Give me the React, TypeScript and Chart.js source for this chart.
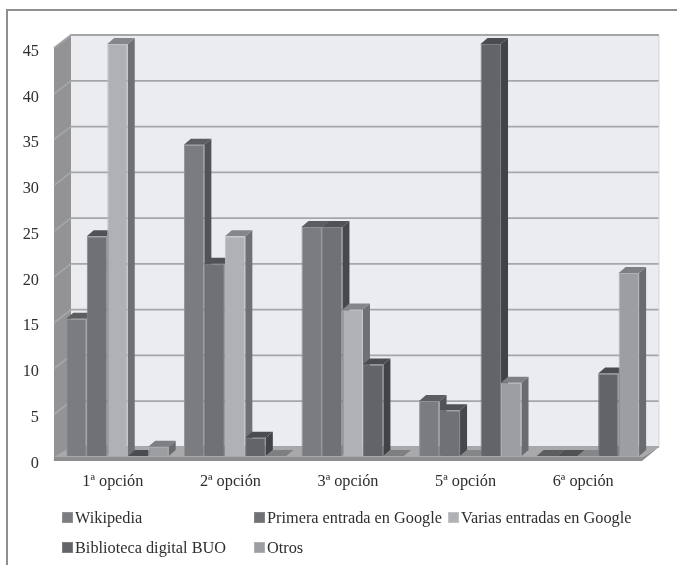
import React, { useEffect, useRef } from "react";
import { Chart, registerables } from "chart.js";

Chart.register(...registerables);

const categories = ["1ª opción", "2ª opción", "3ª opción", "5ª opción", "6ª opción"];
const wikipedia = [15, 34, 25, 6, 0];
const primera = [24, 21, 25, 5, 0];
const varias = [45, 24, 16, 0, 0];
const biblioteca = [0, 2, 10, 45, 9];
const otros = [1, 0, 0, 8, 20];
const seriesNames = ["Wikipedia", "Primera entrada en Google", "Varias entradas en Google", "Biblioteca digital BUO", "Otros"];
const seriesValues = [wikipedia, primera, varias, biblioteca, otros];
const frontColors = ["#7b7c80", "#707175", "#b0b1b5", "#636468", "#9d9ea2"];
const sideColors = ["#525357", "#47484c", "#6f7074", "#424347", "#6a6b6f"];
const topColors = ["#5c5d61", "#515256", "#85868a", "#4b4c50", "#7e7f83"];
const edgeColors = ["#919296", "#86878b", "#c2c3c6", "#7e7f83", "#b0b1b4"];
const yMax = 45;
const yStep = 5;
const legendColumns = [63, 255, 449];

const FONT = '"Liberation Serif", serif';
const FONT_SIZE = 16.3;
const WALL_DX = 17;
const WALL_DY = 13;
const BAR_DX = 7;
const BAR_DY = 6;
const BAR_SHIFT_X = 4.7;
const BAR_SHIFT_Y = 4;

function poly(ctx: CanvasRenderingContext2D, pts: number[][], fill: string) {
  ctx.beginPath();
  pts.forEach((p, i) => (i ? ctx.lineTo(p[0], p[1]) : ctx.moveTo(p[0], p[1])));
  ctx.closePath();
  ctx.fillStyle = fill;
  ctx.fill();
}

const scene3d = {
  id: "scene3d",
  beforeDatasetsDraw(chart: any) {
    const { ctx, chartArea: a, scales } = chart;
    const y = scales.y;
    ctx.save();
    // outer frame
    ctx.fillStyle = "#8f8f92";
    ctx.fillRect(6, 9, 671, 2);
    ctx.fillRect(6, 9, 2, 556);
    // back wall
    const bx0 = a.left + WALL_DX, bx1 = a.right + WALL_DX;
    poly(ctx, [[bx0, a.top - WALL_DY], [bx1, a.top - WALL_DY], [bx1, a.bottom - WALL_DY], [bx0, a.bottom - WALL_DY]], "#ebecf0");
    // left wall
    poly(ctx, [[a.left, a.top], [bx0, a.top - WALL_DY], [bx0, a.bottom - WALL_DY], [a.left, a.bottom]], "#939396");
    // grid lines
    ctx.lineWidth = 1.8;
    y.ticks.forEach((t: any) => {
      const py = y.getPixelForValue(t.value);
      ctx.strokeStyle = "#a5a6a9";
      ctx.beginPath();
      ctx.moveTo(a.left, py);
      ctx.lineTo(bx0, py - WALL_DY);
      ctx.lineTo(bx1, py - WALL_DY);
      ctx.stroke();
    });
    ctx.strokeStyle = "#d4d5d8";
    ctx.lineWidth = 1;
    ctx.beginPath();
    ctx.moveTo(bx1, a.top - WALL_DY);
    ctx.lineTo(bx1, a.bottom - WALL_DY);
    ctx.stroke();
    // floor
    poly(ctx, [[bx0, a.bottom - WALL_DY], [bx1, a.bottom - WALL_DY], [a.right, a.bottom - 3], [a.left, a.bottom - 3]], "#a9a9ac");
    poly(ctx, [[a.left, a.bottom - 3], [a.right, a.bottom - 3], [bx1, a.bottom - WALL_DY], [a.right, a.bottom + 1], [a.left, a.bottom + 1]], "#8e8e91");
    ctx.restore();

    // 3D bar faces, painted left to right; native fronts go on top
    ctx.save();
    ctx.translate(BAR_SHIFT_X, -BAR_SHIFT_Y);
    const count = categories.length;
    for (let c = 0; c < count; c++) {
      for (let d = 0; d < chart.data.datasets.length; d++) {
        const bar = chart.getDatasetMeta(d).data[c];
        const p = bar.getProps(["x", "y", "base", "width"]);
        const l = p.x - p.width / 2;
        const r = p.x + p.width / 2;
        poly(ctx, [[r, p.y], [r + BAR_DX, p.y - BAR_DY], [r + BAR_DX, p.base - BAR_DY], [r, p.base]], sideColors[d]);
        poly(ctx, [[l, p.y], [l + BAR_DX, p.y - BAR_DY], [r + BAR_DX, p.y - BAR_DY], [r, p.y]], topColors[d]);
      }
    }
    ctx.restore();

    ctx.save();
    ctx.translate(BAR_SHIFT_X, -BAR_SHIFT_Y);
  },
  afterDatasetsDraw(chart: any) {
    chart.ctx.restore();
  },
  afterDraw(chart: any) {
    const { ctx } = chart;
    ctx.save();
    ctx.font = `${FONT_SIZE}px ${FONT}`;
    ctx.textBaseline = "middle";
    ctx.textAlign = "left";
    seriesNames.forEach((name, i) => {
      const col = i < 3 ? i : i - 3;
      const rowY = i < 3 ? 519 : 549;
      const x = legendColumns[col];
      ctx.fillStyle = frontColors[i];
      ctx.fillRect(x, rowY - 6, 9, 9);
      ctx.strokeStyle = edgeColors[i];
      ctx.lineWidth = 1;
      ctx.strokeRect(x - 0.5, rowY - 6.5, 10, 10);
      ctx.fillStyle = "#2e2e2e";
      ctx.fillText(name, x + 12, rowY);
    });
    ctx.restore();
  },
};

export default function App() {
  const ref = useRef<HTMLCanvasElement>(null);
  useEffect(() => {
    const chart = new Chart(ref.current!, {
      type: "bar",
      data: {
        labels: categories,
        datasets: seriesNames.map((name, i) => ({
          label: name,
          data: seriesValues[i],
          backgroundColor: frontColors[i],
          borderColor: edgeColors[i],
          borderWidth: 1,
          clip: false as any,
          barPercentage: 1,
          categoryPercentage: 0.871,
        })),
      },
      options: {
        animation: false,
        responsive: false,
        layout: { padding: { top: 48, right: 35, left: 0, bottom: 0 } },
        plugins: { legend: { display: false }, title: { display: false }, tooltip: { enabled: false } },
        scales: {
          x: {
            grid: { display: false, drawTicks: false },
            border: { display: false },
            afterFit: (s: any) => { s.height = 105; },
            ticks: { autoSkip: false, maxRotation: 0, padding: 12, color: "#2e2e2e", font: { family: FONT, size: FONT_SIZE } },
          },
          y: {
            min: 0,
            max: yMax,
            grid: { display: false, drawTicks: false },
            border: { display: false },
            afterFit: (s: any) => { s.width = 54; },
            ticks: {
              stepSize: yStep,
              padding: 15,
              color: "#2e2e2e",
              font: { family: FONT, size: FONT_SIZE, lineHeight: "7px" },
              callback: (v: any) => ["", String(v)],
            },
          },
        },
      },
      plugins: [scene3d],
    });
    return () => chart.destroy();
  }, []);
  return (
    <div style={{ position: "fixed", left: 0, top: 0, width: 677, height: 565, background: "#fff" }}>
      <canvas ref={ref} width={677} height={565} style={{ display: "block", filter: "blur(0.35px)" }} />
    </div>
  );
}
